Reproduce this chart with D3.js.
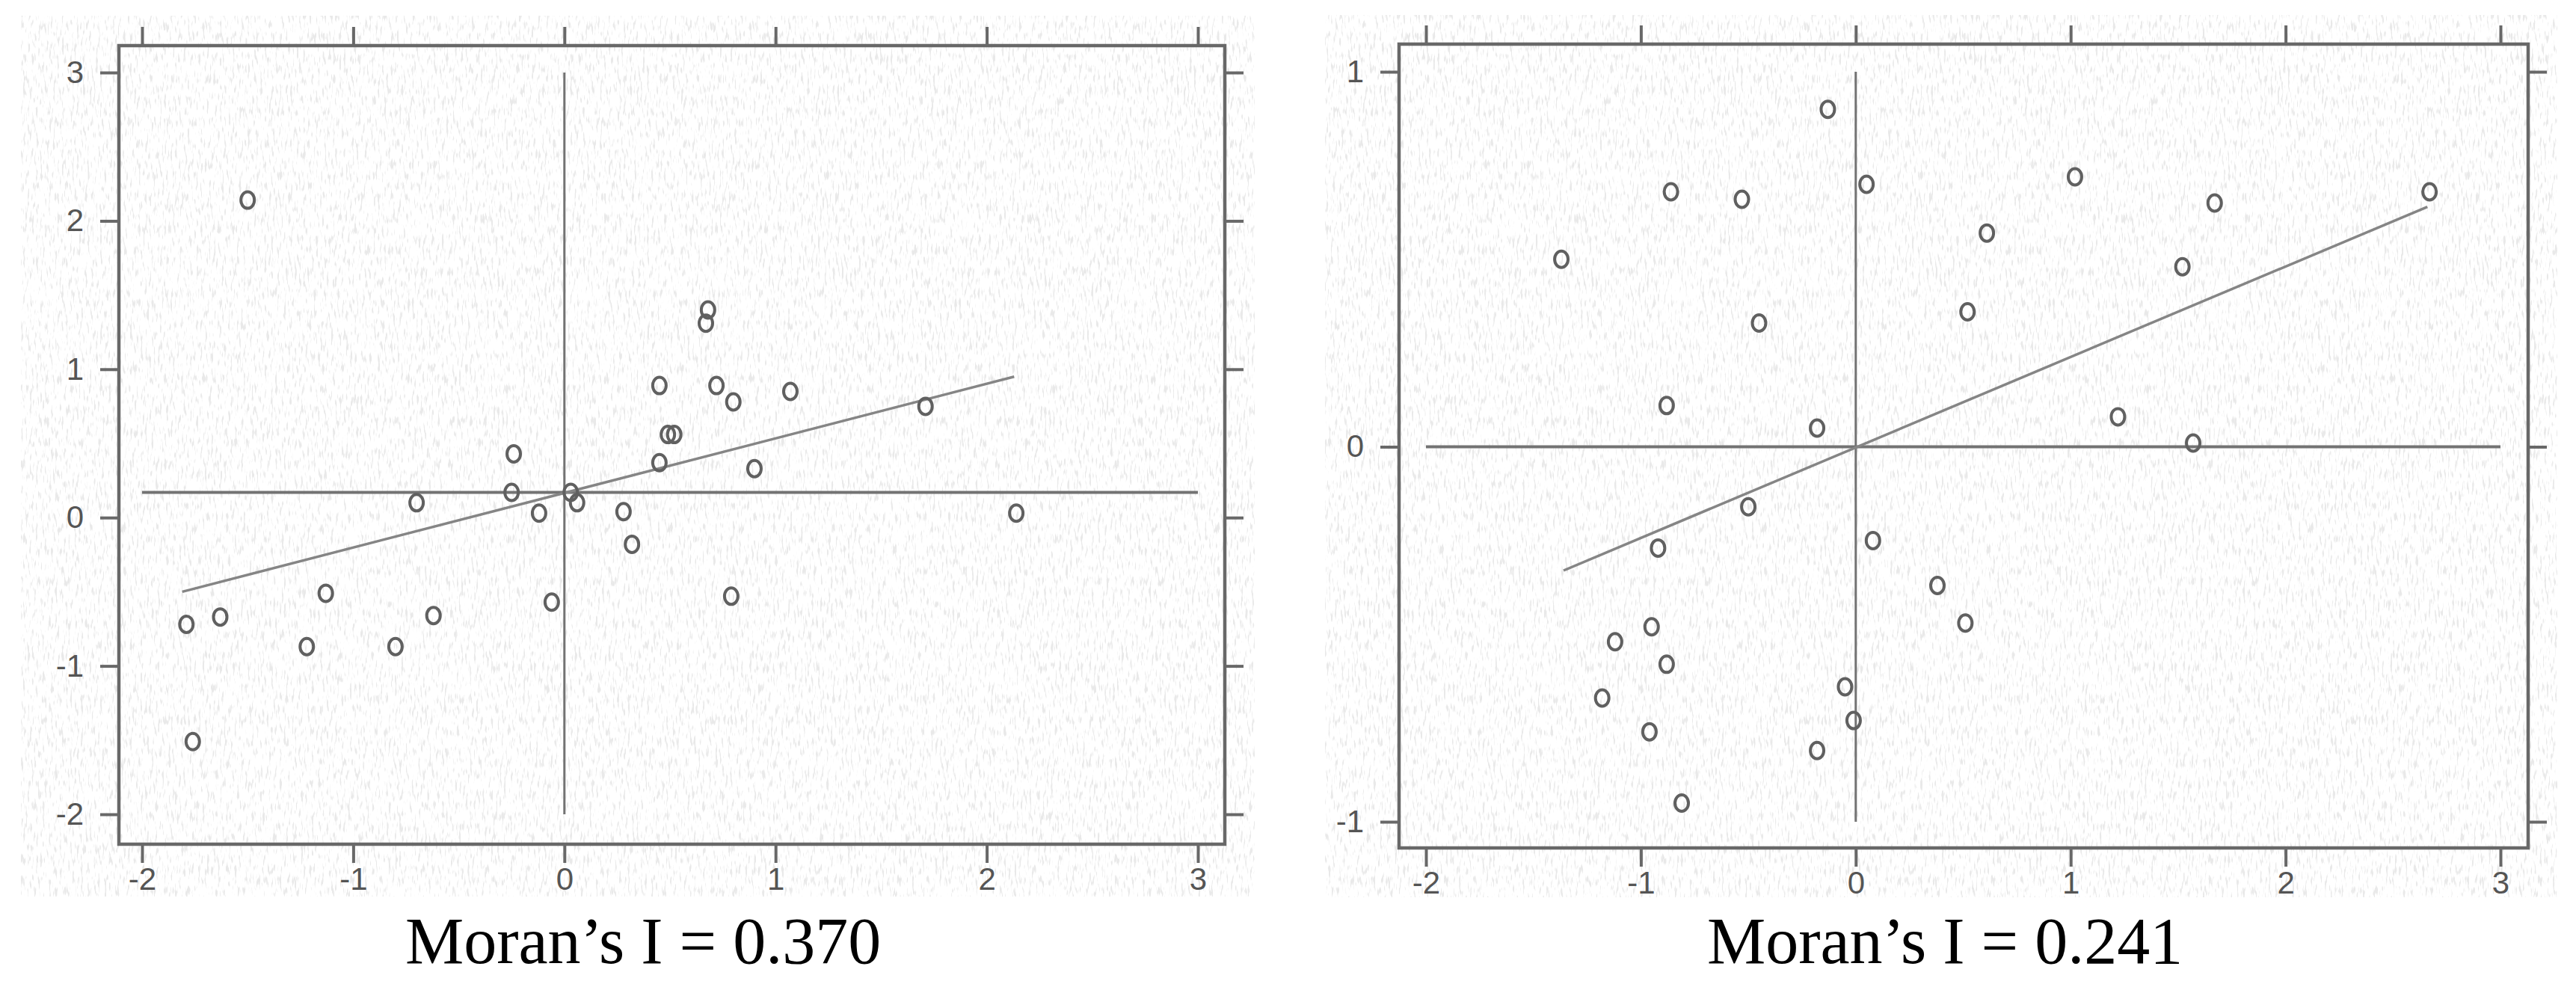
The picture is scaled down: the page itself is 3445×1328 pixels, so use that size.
<!DOCTYPE html>
<html>
<head>
<meta charset="utf-8">
<script src="https://cdn.jsdelivr.net/npm/d3@7"></script>
<style>
  html, body { margin: 0; padding: 0; background: #fff; }
  svg { display: block; }
</style>
</head>
<body>
<svg id="chart" width="3445" height="1328"></svg>
<script>
// ---- data ----
const leftX = [-1.50, 0.68, 0.67, 0.45, 0.72, 0.80, 1.07, 1.71, 0.49, 0.52, 0.45, 0.90, -0.24, -0.25, -0.70, -0.12, 0.03, 0.06, 0.28, 0.32, -0.06, 0.79, 2.14, -1.13, -1.63, -1.79, -0.62, -1.22, -0.80, -1.76];
const leftY = [2.14, 1.40, 1.31, 0.89, 0.89, 0.78, 0.85, 0.75, 0.56, 0.56, 0.37, 0.33, 0.43, 0.17, 0.10, 0.03, 0.17, 0.10, 0.04, -0.18, -0.57, -0.53, 0.03, -0.51, -0.67, -0.72, -0.66, -0.87, -0.87, -1.51];
const leftFitX = [-1.81, 2.13];
const leftFitY = [-0.50, 0.95];
const leftMeanY = 0.17;

const rightX = [-0.13, 0.05, 1.02, 2.67, -0.86, -0.53, 1.67, 0.61, -1.37, 1.52, 0.52, -0.45, -0.88, -0.18, 1.22, 1.57, -0.50, -0.92, 0.08, 0.38, 0.51, -0.95, -1.12, -0.88, -1.18, -0.05, -0.01, -0.96, -0.18, -0.81];
const rightY = [0.90, 0.70, 0.72, 0.68, 0.68, 0.66, 0.65, 0.57, 0.50, 0.48, 0.36, 0.33, 0.11, 0.05, 0.08, 0.01, -0.16, -0.27, -0.25, -0.37, -0.47, -0.48, -0.52, -0.58, -0.67, -0.64, -0.73, -0.76, -0.81, -0.95];
const rightFitX = [-1.36, 2.66];
const rightFitY = [-0.33, 0.64];
const rightMeanY = 0;

const xTicks = [-2, -1, 0, 1, 2, 3];
const leftYTicks = [-2, -1, 0, 1, 2, 3];
const rightYTicks = [-1, 0, 1];
const captions = ["Moran\u2019s I = 0.370", "Moran\u2019s I = 0.241"];

const svg = d3.select("#chart");

const defs = svg.append("defs");
const filt = defs.append("filter").attr("id", "paper")
    .attr("x", 0).attr("y", 0).attr("width", "100%").attr("height", "100%");
filt.append("feTurbulence")
    .attr("type", "fractalNoise")
    .attr("baseFrequency", "0.35 0.07")
    .attr("numOctaves", 2)
    .attr("seed", 7);
filt.append("feColorMatrix")
    .attr("type", "matrix")
    .attr("values", "0 0 0 0 0.66  0 0 0 0 0.66  0 0 0 0 0.66  7 0 0 0 -3.9");

const frameColor = "#686868";
const fmt = d => d < 0 ? "-" + Math.abs(d) : String(d);

function drawPanel(p) {
    const g = svg.append("g");
    const x = d3.scaleLinear().domain([-2, 3]).range(p.xRange);
    const y = d3.scaleLinear().domain(p.yDomain).range(p.yRange);

    // textured paper background
    g.append("rect")
        .attr("x", p.bg[0]).attr("y", p.bg[1])
        .attr("width", p.bg[2] - p.bg[0]).attr("height", p.bg[3] - p.bg[1])
        .attr("fill", "#fff");
    g.append("rect")
        .attr("x", p.bg[0]).attr("y", p.bg[1])
        .attr("width", p.bg[2] - p.bg[0]).attr("height", p.bg[3] - p.bg[1])
        .attr("filter", "url(#paper)")
        .attr("opacity", 0.5);

    const fl = p.frame[0], ft = p.frame[1], fr = p.frame[2], fb = p.frame[3];
    const tl = 25;

    // axes with outward ticks on all four sides, labels only bottom and left
    g.append("g").attr("class", "ax lab").attr("transform", `translate(0,${fb})`)
        .call(d3.axisBottom(x).tickValues(xTicks).tickSize(tl).tickSizeOuter(0).tickPadding(6).tickFormat(fmt));
    g.append("g").attr("class", "ax nolab").attr("transform", `translate(0,${ft})`)
        .call(d3.axisTop(x).tickValues(xTicks).tickSize(tl).tickSizeOuter(0));
    g.append("g").attr("class", "ax lab").attr("transform", `translate(${fl},0)`)
        .call(d3.axisLeft(y).tickValues(p.yTicks).tickSize(tl).tickSizeOuter(0).tickPadding(22).tickFormat(fmt));
    g.append("g").attr("class", "ax nolab").attr("transform", `translate(${fr},0)`)
        .call(d3.axisRight(y).tickValues(p.yTicks).tickSize(tl).tickSizeOuter(0));

    g.selectAll(".nolab .tick text").remove();
    g.selectAll(".domain").remove();
    g.selectAll(".tick line").attr("stroke", frameColor).attr("stroke-width", 4);
    g.selectAll(".lab .tick text")
        .attr("fill", "#555")
        .style("font-family", "'Liberation Sans', Arial, sans-serif")
        .style("font-size", "42px");

    // frame
    g.append("rect")
        .attr("x", fl).attr("y", ft)
        .attr("width", fr - fl).attr("height", fb - ft)
        .attr("fill", "none")
        .attr("stroke", frameColor)
        .attr("stroke-width", 4.5);

    // crosshair at the means
    g.append("line")
        .attr("x1", x(-2)).attr("x2", x(3))
        .attr("y1", y(p.meanY)).attr("y2", y(p.meanY))
        .attr("stroke", "#737373").attr("stroke-width", 4);
    g.append("line")
        .attr("x1", x(0)).attr("x2", x(0))
        .attr("y1", y(p.yDomain[0])).attr("y2", y(p.yDomain[1]))
        .attr("stroke", "#737373").attr("stroke-width", 3);

    // fitted line
    g.append("line")
        .attr("x1", x(p.fitX[0])).attr("y1", y(p.fitY[0]))
        .attr("x2", x(p.fitX[1])).attr("y2", y(p.fitY[1]))
        .attr("stroke", "#858585").attr("stroke-width", 3.5);

    // points
    g.selectAll("ellipse.pt")
        .data(d3.zip(p.xs, p.ys))
        .enter().append("ellipse")
        .attr("class", "pt")
        .attr("cx", d => x(d[0]))
        .attr("cy", d => y(d[1]))
        .attr("rx", 9)
        .attr("ry", 11)
        .attr("fill", "none")
        .attr("stroke", "#606060")
        .attr("stroke-width", 4);

    // caption
    g.append("text")
        .attr("x", p.capX).attr("y", 1288)
        .style("font-family", "'Liberation Serif', 'Times New Roman', serif")
        .style("font-size", "88px")
        .attr("fill", "#000")
        .text(p.caption);
}

drawPanel({
    xs: leftX, ys: leftY, fitX: leftFitX, fitY: leftFitY, meanY: leftMeanY,
    yTicks: leftYTicks, yDomain: [-2, 3],
    xRange: [190, 1602], yRange: [1089, 97],
    frame: [159, 61, 1638, 1129], bg: [28, 21, 1678, 1199],
    caption: captions[0], capX: 542
});

drawPanel({
    xs: rightX, ys: rightY, fitX: rightFitX, fitY: rightFitY, meanY: rightMeanY,
    yTicks: rightYTicks, yDomain: [-1, 1],
    xRange: [1907, 3344], yRange: [1099, 96],
    frame: [1871, 59, 3381, 1134], bg: [1772, 20, 3420, 1200],
    caption: captions[1], capX: 2283
});
</script>
</body>
</html>
